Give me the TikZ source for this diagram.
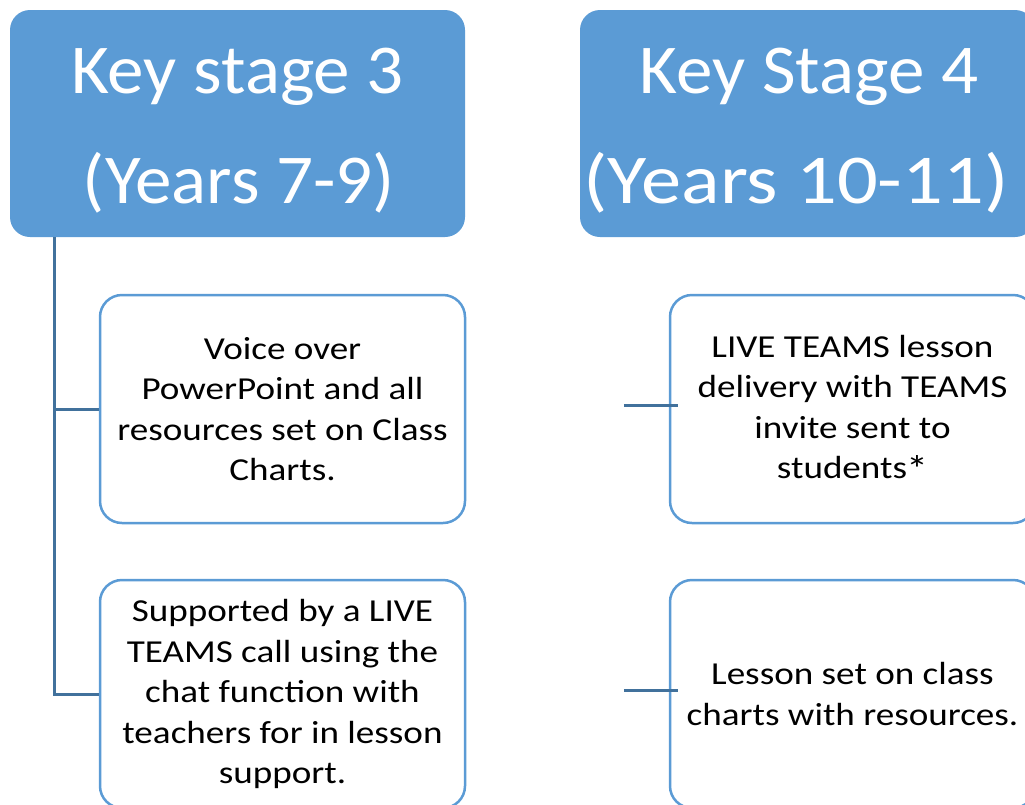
\documentclass[tikz,border=0pt]{standalone}
\usepackage{graphicx}
\usepackage{fontspec}
\setmainfont{Carlito}
\newfontfamily\hdrfont[FakeStretch=1.045]{Carlito}
\newfontfamily\bodyfont[FakeStretch=1.16]{Carlito}
\usetikzlibrary{calc}
\definecolor{hdrblue}{HTML}{5B9BD5}
\definecolor{connblue}{HTML}{41719C}
\tikzset{
  header/.style={draw=none, fill=hdrblue, rounded corners=20pt, minimum width=455pt, minimum height=227pt, inner sep=0pt},
  htext/.style={text=white, anchor=base, inner sep=0pt, font=\hdrfont\fontsize{70}{84}\selectfont},
  content/.style={draw=hdrblue, line width=2.5pt, fill=white, rounded corners=22pt, minimum width=365pt,
    minimum height=228pt, align=center, font=\bodyfont\fontsize{32}{40.5}\selectfont, inner sep=0pt},
  conn/.style={draw=connblue, line width=3pt}
}
\begin{document}
\begin{tikzpicture}[x=1pt,y=-1pt]
\useasboundingbox (0,0) rectangle (1025,804);
\node[header] (h1) at (237.5,123.5) {};
\node[header] (h2) at (807.5,123.5) {};
\node[htext] (h1a) at (237.5,93) {Key stage 3};
\node[htext] (h1b) at (239,203) {(Years 7-9)};
\node[htext] (h2a) at (809,93) {Key Stage 4};
\node[htext] (h2b) at (796,203) {\scalebox{1.1}[1]{(Years 10-11)}};
\node[content] (b1) at (282.5,409) {Voice over\\PowerPoint and all\\resources set on Class\\Charts.};
\node[content] (b2) at (282.5,694) {Supported by a LIVE\\TEAMS call using the\\chat function with\\teachers for in lesson\\support.};
\node[content] (b3) at (852.5,409) {LIVE TEAMS lesson\\delivery with TEAMS\\invite sent to\\students\kern-1pt\raisebox{-4pt}{\fontsize{38}{38}\selectfont*}};
\node[content] (b4) at (852.5,694) {Lesson set on class\\charts with resources.};
\coordinate (t1) at ($(h1.south west)+(45,0)$);
\draw[conn] (t1) |- (b2.west);
\draw[conn] (t1 |- b1.west) -- (b1.west);
\coordinate (c3) at ($(b3.west)+(-45,-4)$);
\coordinate (c4) at ($(b4.west)+(-45,-4)$);
\draw[conn] (c3) -- ++(54,0) coordinate (e3);
\draw[conn] (c4) -- ++(54,0) coordinate (e4);
\end{tikzpicture}
\end{document}
